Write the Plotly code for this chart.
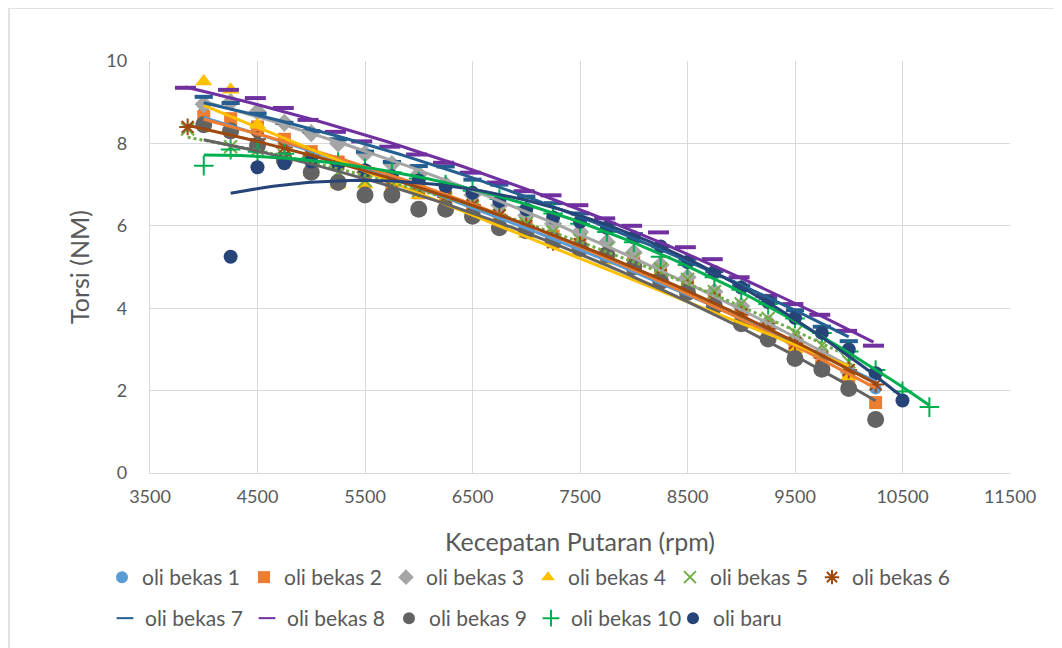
import numpy as np
import plotly.graph_objects as go

# ---- data ----
x_std = [4000, 4250, 4500, 4750, 5000, 5250, 5500, 5750, 6000, 6250, 6500, 6750, 7000,
         7250, 7500, 7750, 8000, 8250, 8500, 8750, 9000, 9250, 9500, 9750, 10000, 10250]

x_b1 = x_std
y_b1 = [8.75, 8.6, 8.3, 8.0, 7.75, 7.5, 7.25, 7.0, 6.8, 6.6, 6.35, 6.1, 5.9, 5.7, 5.5, 5.25,
        5.0, 4.75, 4.45, 4.15, 3.85, 3.5, 3.15, 2.8, 2.45, 2.05]

x_b2 = x_std
y_b2 = [8.65, 8.6, 8.4, 8.1, 7.8, 7.55, 7.3, 7.05, 6.8, 6.6, 6.4, 6.15, 5.95, 5.75, 5.55, 5.3,
        5.1, 4.85, 4.55, 4.2, 3.9, 3.5, 3.1, 2.7, 2.35, 1.71]

x_b3 = x_std[:-1]
y_b3 = [8.95, 9.0, 8.77, 8.5, 8.25, 8.0, 7.75, 7.5, 7.25, 7.0, 6.75, 6.5, 6.25, 6.05, 5.85,
        5.6, 5.35, 5.05, 4.75, 4.4, 4.05, 3.65, 3.25, 2.85, 2.45]

x_b4 = x_std[:-1]
y_b4 = [9.5, 9.3, 8.45, 7.6, 7.3, 7.0, 7.0, 6.9, 6.75, 6.5, 6.3, 6.05, 5.8, 5.6, 5.4, 5.15,
        4.9, 4.6, 4.35, 4.0, 3.7, 3.35, 3.0, 2.65, 2.35]

x_b5 = [3850] + x_std[1:-1]
y_b5 = [8.35, 7.92, 7.85, 7.7, 7.5, 7.3, 7.1, 6.95, 6.85, 6.65, 6.45, 6.25, 6.05, 5.85, 5.65,
        5.45, 5.2, 4.95, 4.7, 4.4, 4.1, 3.75, 3.4, 3.1, 2.7]

x_b6 = [3850] + x_std[1:]
y_b6 = [8.4, 8.3, 8.1, 7.9, 7.7, 7.5, 7.3, 7.1, 6.9, 6.7, 6.5, 6.25, 6.0, 5.6, 5.55, 5.3,
        5.05, 4.8, 4.5, 4.2, 3.85, 3.5, 3.15, 2.8, 2.5, 2.15]

x_b7 = x_std[:-1]
y_b7 = [9.13, 8.98, 8.72, 8.5, 8.3, 8.1, 7.8, 7.55, 7.45, 7.44, 7.12, 7.0, 6.71, 6.55, 6.3,
        6.05, 5.8, 5.5, 5.2, 4.9, 4.55, 4.25, 3.95, 3.55, 3.2]

x_b8 = [3830, 4230, 4480, 4740, 4970, 5225, 5470, 5730, 5980, 6230, 6480, 6730, 6980, 7230,
        7480, 7730, 7980, 8230, 8480, 8730, 8980, 9230, 9480, 9730, 9980, 10230]
y_b8 = [9.35, 9.3, 9.1, 8.86, 8.57, 8.28, 8.05, 7.92, 7.73, 7.53, 7.29, 7.05, 6.84, 6.74, 6.5,
        6.18, 6.0, 5.84, 5.48, 5.19, 4.75, 4.3, 4.1, 3.84, 3.45, 3.09]

x_b9 = x_std
y_b9 = [8.45, 8.3, 7.95, 7.6, 7.3, 7.05, 6.75, 6.75, 6.4, 6.4, 6.23, 5.95, 5.88, 5.65, 5.45,
        5.3, 5.0, 4.65, 4.38, 4.05, 3.62, 3.25, 2.78, 2.52, 2.05, 1.3]

x_b10 = x_std + [10500, 10750]
y_b10 = [7.46, 7.85, 7.8, 7.75, 7.65, 7.55, 7.4, 7.3, 7.15, 7.0, 6.85, 6.65, 6.45, 6.3, 6.05,
         5.85, 5.6, 5.25, 5.05, 4.75, 4.45, 4.1, 3.75, 3.4, 2.95, 2.5, 1.98, 1.6]

x_baru = x_std[1:] + [10500]
y_baru = [5.25, 7.42, 7.52, 7.56, 7.5, 7.35, 7.2, 7.1, 6.95, 6.8, 6.6, 6.4, 6.2, 6.1, 5.95,
          5.72, 5.5, 5.12, 4.88, 4.5, 4.15, 3.77, 3.4, 3.0, 2.42, 1.76]

series = [
    ("oli bekas 1", x_b1, y_b1, "#5B9BD5", "circle", 12, "solid"),
    ("oli bekas 2", x_b2, y_b2, "#ED7D31", "square", 13, "solid"),
    ("oli bekas 3", x_b3, y_b3, "#A5A5A5", "diamond", 14, "solid"),
    ("oli bekas 4", x_b4, y_b4, "#FFC000", "triangle-up", 15, "solid"),
    ("oli bekas 5", x_b5, y_b5, "#70AD47", "x-thin-open", 13, "dot"),
    ("oli bekas 6", x_b6, y_b6, "#9E480E", "asterisk-open", 14, "solid"),
    ("oli bekas 7", x_b7, y_b7, "#255E91", "line-ew-open", 13, "solid"),
    ("oli bekas 8", x_b8, y_b8, "#7030A0", "line-ew-open", 15, "solid"),
    ("oli bekas 9", x_b9, y_b9, "#636363", "circle", 17, "solid"),
    ("oli bekas 10", x_b10, y_b10, "#00B050", "cross-thin-open", 14, "solid"),
    ("oli baru", x_baru, y_baru, "#264478", "circle", 14, "solid"),
]

fig = go.Figure()
for i, (name, xs, ys, col, sym, size, dash) in enumerate(series):
    if sym in ("x-thin-open", "cross-thin-open", "asterisk-open"):
        marker = dict(symbol=sym, size=size, color=col, line=dict(color=col, width=2))
    elif sym == "line-ew-open":
        marker = dict(symbol=sym, size=size, color=col, line=dict(color=col, width=4))
    else:
        marker = dict(symbol=sym, size=size, color=col, line=dict(width=0))
    fig.add_trace(go.Scatter(x=xs, y=ys, mode="markers", name=name, marker=marker,
                             legend="legend" if i < 6 else "legend2"))

# polynomial (order 2) trendlines, drawn on top of markers
for name, xs, ys, col, sym, size, dash in series:
    coef = np.polyfit(xs, ys, 2)
    xt = np.linspace(min(xs), max(xs), 80)
    yt = np.polyval(coef, xt)
    fig.add_trace(go.Scatter(x=xt, y=yt, mode="lines", showlegend=False, hoverinfo="skip",
                             line=dict(color=col, width=3, dash=dash)))

font_family = "Lato, 'Liberation Sans', sans-serif"
OFF = 8  # page body margin
L, R, T, B = 142, 60, 53, 183
PW, PH = 1062 - L - R, 648 - T - B


def sx(p):  # screen x pixel -> paper fraction
    return (p - OFF - L) / PW


def sy(p):  # screen y pixel -> paper fraction
    return (648 - B - (p - OFF)) / PH


leg_common = dict(orientation="h", xanchor="left", yanchor="top",
                  font=dict(size=21, color="#595959"), itemsizing="constant",
                  entrywidth=97, itemwidth=30, bgcolor="rgba(0,0,0,0)")
fig.update_layout(
    width=1062, height=648,
    paper_bgcolor="white", plot_bgcolor="white",
    margin=dict(l=L, r=R, t=T, b=B),
    font=dict(family=font_family, size=18, color="#595959"),
    showlegend=True,
    legend=dict(x=sx(102), y=sy(557), **leg_common),
    legend2=dict(x=sx(105), y=sy(598), **leg_common),
    shapes=[dict(type="rect", xref="paper", yref="paper",
                 x0=sx(9), x1=sx(1080), y0=sy(680), y1=sy(8),
                 line=dict(color="#D9D9D9", width=1.5))],
)
fig.update_xaxes(range=[3500, 11500], dtick=1000, tick0=3500, tickformat="d",
                 showgrid=True, gridcolor="#D9D9D9", gridwidth=1.3,
                 zeroline=False, showline=True, linecolor="#D9D9D9", linewidth=1.3, ticks="",
                 automargin=False, ticklabelstandoff=7,
                 tickfont=dict(size=18, color="#595959"),
                 title=dict(text="Kecepatan Putaran (rpm)", font=dict(size=25, color="#595959"),
                            standoff=27))
fig.update_yaxes(range=[0, 10], dtick=2, showgrid=True, gridcolor="#D9D9D9", gridwidth=1.3,
                 zeroline=False, showline=True, linecolor="#D9D9D9", linewidth=1.3, ticks="",
                 automargin=False, ticklabelstandoff=18,
                 tickfont=dict(size=18, color="#595959"),
                 title=dict(text="Torsi (NM)", font=dict(size=25, color="#595959"), standoff=9))

fig.write_html("out.html")
